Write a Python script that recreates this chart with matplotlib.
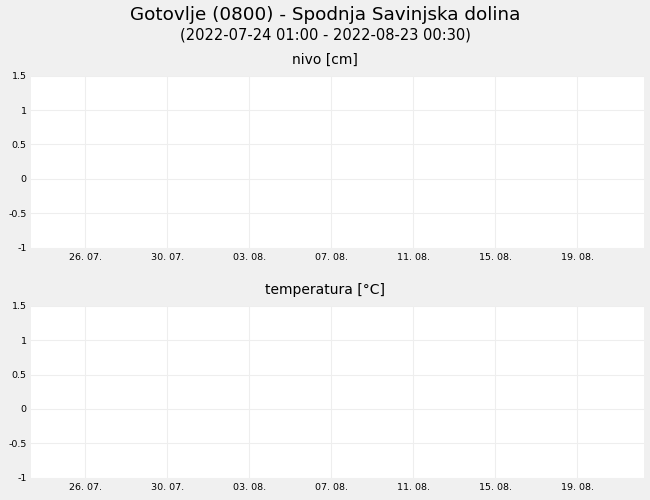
import matplotlib
matplotlib.use("Agg")
import matplotlib.pyplot as plt
import matplotlib.dates as mdates
from datetime import datetime

title = "Gotovlje (0800) - Spodnja Savinjska dolina"
subtitle = "(2022-07-24 01:00 - 2022-08-23 00:30)"
panel_titles = ["nivo [cm]", "temperatura [°C]"]

# No measurements in the reference period
times_nivo = []
values_nivo = []
times_temp = []
values_temp = []

y_ticks = [-1, -0.5, 0, 0.5, 1, 1.5]
y_tick_labels = ["-1", "-0.5", "0", "0.5", "1", "1.5"]
x_tick_dates = [datetime(2022, 7, 26), datetime(2022, 7, 30), datetime(2022, 8, 3),
                datetime(2022, 8, 7), datetime(2022, 8, 11), datetime(2022, 8, 15),
                datetime(2022, 8, 19)]
x_tick_labels = ["26. 07.", "30. 07.", "03. 08.", "07. 08.", "11. 08.", "15. 08.", "19. 08."]
x_start = datetime(2022, 7, 23, 8, 25)
x_end = datetime(2022, 8, 22, 6, 26)

bg = "#f0f0f0"
grid_c = "#eeeeee"

fig = plt.figure(figsize=(6.5, 5), dpi=100, facecolor=bg)
W, H = 650, 500

def add_ax(top, bottom):
    left, right = 31, 644.3
    return fig.add_axes([left / W, 1 - bottom / H, (right - left) / W, (bottom - top) / H])

ax1 = add_ax(75.7, 247.7)
ax2 = add_ax(305.8, 477.7)

series = [(times_nivo, values_nivo), (times_temp, values_temp)]
for ax, (t, v), pt, ty in zip([ax1, ax2], series, panel_titles, [60, 290]):
    ax.plot(t, v, color="#1f4e9e", lw=1)
    ax.set_facecolor("white")
    for s in ax.spines.values():
        s.set_visible(False)
    ax.set_xlim(mdates.date2num(x_start), mdates.date2num(x_end))
    ax.set_ylim(-1, 1.5)
    ax.set_yticks(y_ticks)
    ax.set_yticklabels(y_tick_labels, fontsize=6.8)
    ax.set_xticks([mdates.date2num(d) for d in x_tick_dates])
    ax.set_xticklabels(x_tick_labels, fontsize=6.8)
    ax.tick_params(length=0, colors="black")
    ax.tick_params(axis="y", pad=3)
    ax.tick_params(axis="x", pad=3.5)
    ax.grid(True, color=grid_c, lw=0.8)
    ax.set_axisbelow(True)
    fig.text(0.5, 1 - ty / H, pt, ha="center", va="center", fontsize=10)

fig.text(0.5, 1 - 15 / H, title, ha="center", va="center", fontsize=13.2)
fig.text(0.5, 1 - 34.5 / H, subtitle, ha="center", va="center", fontsize=10.5)

fig.savefig("out.png", dpi=100, facecolor=bg)
